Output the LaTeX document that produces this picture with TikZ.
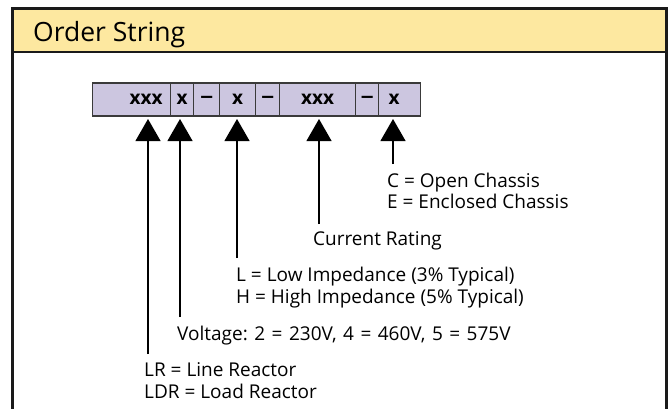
\documentclass[tikz,border=0pt]{standalone}
\usepackage{fontspec}
\setmainfont{Open Sans}
\usetikzlibrary{arrows.meta}
\definecolor{headfill}{HTML}{FDE8A0}
\definecolor{cellfill}{HTML}{CCC6E0}
\definecolor{framecol}{HTML}{1A1A1A}
\definecolor{cellline}{HTML}{3A3A3A}
\newcommand{\widedash}{\scalebox{1.4}[1]{–}}
\tikzset{
  frameline/.style={draw=framecol, line width=2.6pt},
  cell/.style={draw=cellline, line width=1.3pt, fill=cellfill, minimum height=33pt,
    inner sep=0pt, anchor=west, font=\fontsize{19}{21}\selectfont\bfseries},
  lbl/.style={anchor=base west, inner sep=0pt, font=\fontsize{19}{21}\selectfont},
  conn/.style={draw=black, line width=1.2pt, -{Triangle[length=22pt,width=25pt]}}
}
\begin{document}
\frenchspacing
\begin{tikzpicture}[x=1pt,y=-1pt]
\useasboundingbox (0,0) rectangle (669,408);
% frame and header
\fill[headfill] (12.5,8.5) rectangle (666.5,52);
\draw[frameline] (12.5,412) -- (12.5,8.5) -- (666.5,8.5) -- (666.5,412);
\draw[frameline] (12.5,52) -- (666.5,52);
\node[anchor=base west, inner sep=0pt, font=\fontsize{26.5}{28}\selectfont] (title) at (33,41) {Order String};
% order string cells
\node[cell, minimum width=78pt, text width=62pt, inner xsep=8pt, align=right] (b1) at (92,99.5) {xxx};
\node[cell, minimum width=23pt] (b2) at (170,99.5) {x};
\node[cell, minimum width=26pt] (b3) at (193,99.5) {\widedash};
\node[cell, minimum width=36pt] (b4) at (219,99.5) {x};
\node[cell, minimum width=24pt] (b5) at (255,99.5) {\widedash};
\node[cell, minimum width=76pt] (b6) at (279,99.5) {xxx};
\node[cell, minimum width=23pt] (b7) at (355,99.5) {\widedash};
\node[cell, minimum width=42pt, text width=22pt, inner xsep=10pt, align=left] (b8) at (378,99.5) {x};
% arrow tips (apex) and line ends
\coordinate (t1) at (148,119);
\coordinate (t2) at (180,119);
\coordinate (t3) at (237,119);
\coordinate (t4) at (319,119);
\coordinate (t5) at (393,119);
\coordinate (e1) at (148,354);
\coordinate (e2) at (180,317);
\coordinate (e3) at (237,258);
\coordinate (e4) at (319,224);
\coordinate (e5) at (393,164);
\draw[conn] (e1) -- (t1);
\draw[conn] (e2) -- (t2);
\draw[conn] (e3) -- (t3);
\draw[conn] (e4) -- (t4);
\draw[conn] (e5) -- (t5);
% labels
\node[lbl] (c1) at (387,187.3) {C = Open Chassis};
\node[lbl] (c2) at (387,208.3) {E = Enclosed Chassis};
\node[lbl] (r1) at (313,245.7) {Current Rating};
\node[lbl] (i1) at (236,281.7) {L = Low Impedance (3\% Typical)};
\node[lbl] (i2) at (236,303.3) {H = High Impedance (5\% Typical)};
\node[lbl] (v1) at (177,340) {\spaceskip=6.5pt\relax Voltage: 2 = 230V, 4 = 460V, 5 = 575V};
\node[lbl] (d1) at (144,376.7) {LR = Line Reactor};
\node[lbl] (d2) at (144,398.3) {LDR = Load Reactor};
\end{tikzpicture}
\end{document}
